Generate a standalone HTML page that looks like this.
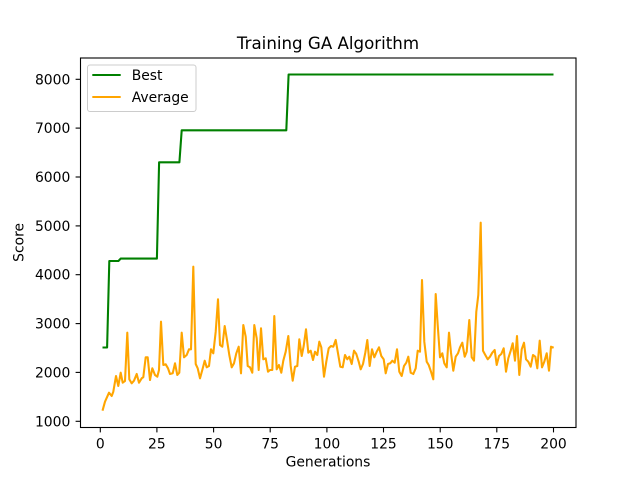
<!DOCTYPE html>
<html><head><meta charset="utf-8"><style>
html,body{margin:0;padding:0;background:#fff;}
svg{display:block;font-family:"DejaVu Sans","Liberation Sans",sans-serif;}
</style></head><body>
<svg width="640" height="480" viewBox="0 0 640 480" xmlns="http://www.w3.org/2000/svg">
<rect x="0" y="0" width="640" height="480" fill="#fff"/>
<!-- series -->
<polyline fill="none" stroke="#008000" stroke-width="2.08" stroke-linejoin="round" points="102.5,347.5 107.1,347.5 109.3,261 118.4,261 120.7,258.6 156.9,258.6 159.1,162.3 179.4,162.3 181.7,130.3 286.3,130.3 288.6,74.5 553.5,74.5"/>
<polyline fill="none" stroke="#FFA500" stroke-width="2.08" stroke-linejoin="round" points="102.5,410.7 105,401.7 109,392.7 111.7,396 113.3,391.7 116,376 118.3,386 120.7,372.7 122.7,382.7 125,381 127.3,332.7 129.3,379.3 131.7,383.3 134,380.7 136.7,374 139,382.7 141.7,378.3 143.3,377.3 145.7,357.3 147.7,357.3 150,380 152.3,368.3 155,375 157.3,376.7 159,370 161,321.7 163.3,365 165.7,364.3 168,368.3 170,374 172.7,373.3 175,363.3 177.3,375 179.3,372.7 181.7,332.7 184,357.3 186.7,355 189,349.3 191,349.3 193.3,266.7 195.7,364 197.7,368.3 200,378.3 202.3,370 204.7,360.7 206.7,367.3 209,366 211,349.3 213.3,353.3 215.7,331.7 218,299.3 220,345 222.3,346.7 224.7,326 227,340 229.3,355 231.7,367.3 234,363.3 236.3,353.3 238.7,346.7 241,373.3 243.3,325 245.7,336.7 247.7,366 250,367.3 252.3,372.7 254.3,325 256.7,338.3 258.7,370 261,328.3 263.3,359.3 265.7,358.3 268,371.7 270,370 272.3,370 274.3,316 276.7,369.3 279,365 281.3,372.7 283.3,360.7 285.7,351.7 288.3,336 290.7,366 292.7,380.7 295,366.7 297.3,366 299.3,339.3 301.7,356 303.7,346 306,329.3 308.3,352.7 310.7,350.7 313,360 315,351.7 317.3,355 319.3,341.7 321.3,347.3 324,376.7 326.3,361.7 328.7,348.3 331,346 333.3,346.7 335.7,340 338,353.3 340.3,366.7 342.7,367.3 345,355 347.3,359.3 349.3,356.7 351.7,364 354,350.7 356.3,354 358.7,361.7 360.7,369.3 363,364 365.3,352.7 367.3,340 369.7,366 372,349.3 374.3,357.3 376.7,351.7 379,347.3 381.3,356 383.7,359.3 385.7,373.3 388,364 390.3,363.3 392.3,360.7 394.7,362.7 397,349.3 399.3,371.7 401.7,376 404,366 406.3,362.7 408.3,356.7 410.7,372.7 413.3,374 415.7,368.3 417.7,350.7 420,351.7 422,280 424.3,341.7 426.7,361.7 428.7,365 431,371.7 433.3,379.3 435.7,294 437.7,325 440,357.3 442.3,353.3 444.3,363.3 446.7,367.3 449,332.7 451,352.7 453.3,370.7 455.7,356.7 458,353.3 460,347.3 462.3,342.7 464.7,356.7 466.7,351.7 469.3,320 471.7,357.3 474,360.7 476.3,311.7 478.3,295 480.7,222.7 483,350.7 485.3,355 487.7,359.3 490,356.7 492.3,352.7 494.7,350 496.7,365 499,356 501.3,354 503.7,348.3 506,371.7 508.3,358.3 510.7,350.7 512.7,343.3 515,360.7 517,336 519.3,375 521.7,349.3 524,342.7 526,359.3 528.3,361.7 530.7,366.7 533,355 535.3,356.7 537.3,368.3 539.7,340.7 542,367.3 544.3,361.7 546.7,353.3 549,370.7 551,346.7 553.7,347.7"/>
<!-- axes frame -->
<rect x="80.5" y="58" width="495.5" height="369.5" fill="none" stroke="#000" stroke-width="1.1"/>
<!-- y ticks -->
<g stroke="#000" stroke-width="1.1">
<line x1="75.6" y1="421.3" x2="80.5" y2="421.3"/>
<line x1="75.6" y1="372.4" x2="80.5" y2="372.4"/>
<line x1="75.6" y1="323.6" x2="80.5" y2="323.6"/>
<line x1="75.6" y1="274.7" x2="80.5" y2="274.7"/>
<line x1="75.6" y1="225.9" x2="80.5" y2="225.9"/>
<line x1="75.6" y1="177.0" x2="80.5" y2="177.0"/>
<line x1="75.6" y1="128.1" x2="80.5" y2="128.1"/>
<line x1="75.6" y1="79.3" x2="80.5" y2="79.3"/>
</g>
<g font-size="13.9" text-anchor="end" fill="#000">
<text x="70.3" y="426.3">1000</text>
<text x="70.3" y="377.4">2000</text>
<text x="70.3" y="328.6">3000</text>
<text x="70.3" y="279.7">4000</text>
<text x="70.3" y="230.9">5000</text>
<text x="70.3" y="182.0">6000</text>
<text x="70.3" y="133.1">7000</text>
<text x="70.3" y="84.3">8000</text>
</g>
<!-- x ticks -->
<g stroke="#000" stroke-width="1.1">
<line x1="100.3" y1="427.5" x2="100.3" y2="432.4"/>
<line x1="156.9" y1="427.5" x2="156.9" y2="432.4"/>
<line x1="213.6" y1="427.5" x2="213.6" y2="432.4"/>
<line x1="270.2" y1="427.5" x2="270.2" y2="432.4"/>
<line x1="326.9" y1="427.5" x2="326.9" y2="432.4"/>
<line x1="383.5" y1="427.5" x2="383.5" y2="432.4"/>
<line x1="440.2" y1="427.5" x2="440.2" y2="432.4"/>
<line x1="496.8" y1="427.5" x2="496.8" y2="432.4"/>
<line x1="553.5" y1="427.5" x2="553.5" y2="432.4"/>
</g>
<g font-size="13.9" text-anchor="middle" fill="#000">
<text x="100.3" y="448.3">0</text>
<text x="156.9" y="448.3">25</text>
<text x="213.6" y="448.3">50</text>
<text x="270.2" y="448.3">75</text>
<text x="326.9" y="448.3">100</text>
<text x="383.5" y="448.3">125</text>
<text x="440.2" y="448.3">150</text>
<text x="496.8" y="448.3">175</text>
<text x="553.5" y="448.3">200</text>
</g>
<!-- labels -->
<text x="328" y="466.5" font-size="13.9" text-anchor="middle">Generations</text>
<text transform="translate(23.5,242.4) rotate(-90)" x="0" y="0" font-size="13.9" text-anchor="middle">Score</text>
<text x="328" y="49" font-size="16.67" text-anchor="middle">Training GA Algorithm</text>
<!-- legend -->
<rect x="87.5" y="65" width="108.5" height="46.5" rx="2.5" ry="2.5" fill="#fff" fill-opacity="0.8" stroke="#cccccc" stroke-width="1"/>
<line x1="92.3" y1="75" x2="120.7" y2="75" stroke="#008000" stroke-width="2.08"/>
<line x1="92.3" y1="97" x2="120.7" y2="97" stroke="#FFA500" stroke-width="2.08"/>
<text x="131.7" y="80" font-size="13.9">Best</text>
<text x="131.7" y="102" font-size="13.9">Average</text>
</svg>
</body></html>
